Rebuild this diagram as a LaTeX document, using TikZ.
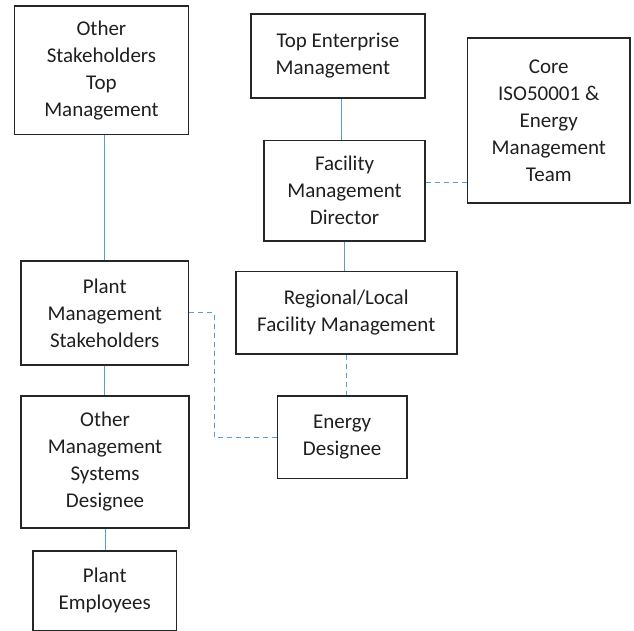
\documentclass[tikz,border=0pt]{standalone}
\usepackage{fontspec}
\setmainfont{Carlito}
\begin{document}
\begin{tikzpicture}[x=1pt,y=-1pt,
  box/.style={draw=boxgray,line width=1.5pt,anchor=north west,align=center,
    inner sep=0pt,font=\fontsize{21}{27}\selectfont,text=black!88},
  solidlink/.style={draw=linkblue,line width=1.1pt},
  dashlink/.style={draw=linkblue,line width=1.1pt,dash pattern=on 5pt off 4pt}]
\definecolor{boxgray}{HTML}{262626}
\definecolor{linkblue}{HTML}{5B9BD5}
\useasboundingbox (0,0) rectangle (634,631);

% boxes: anchored at their top-left corners
\node[box,minimum width=174pt,minimum height=128.7pt] (ostm) at (13.7,5.3)
  {Other\\Stakeholders\\Top\\Management};
\node[box,minimum width=174.3pt,minimum height=84pt] (tem) at (250,13.3)
  {\raisebox{5pt}{Top Enterprise}\\\raisebox{5pt}{Management\hspace*{10pt}}};
\node[box,minimum width=161pt,minimum height=100pt] (fmd) at (263.3,140)
  {Facility\\Management\\Director};
\node[box,minimum width=162.6pt,minimum height=165pt] (core) at (466.7,37.3)
  {Core\\ISO50001 \&\\Energy\\Management\\Team};
\node[box,minimum width=167.4pt,minimum height=103.7pt] (pms) at (20.3,260.3)
  {Plant\\Management\\Stakeholders};
\node[box,minimum width=221pt,minimum height=82.6pt] (rlf) at (235,270.7)
  {Regional/Local\\Facility Management};
\node[box,minimum width=129.3pt,minimum height=82.7pt] (ed) at (276.7,395)
  {Energy\\Designee};
\node[box,minimum width=168pt,minimum height=132.3pt] (omsd) at (20.3,395)
  {Other\\Management\\Systems\\Designee};
\node[box,minimum width=143.4pt,minimum height=79.5pt] (pe) at (32.3,550)
  {Plant\\Employees};

% solid reporting lines
\draw[solidlink] (pms.north |- ostm.south) -- (pms.north);
\coordinate (temx) at (341.3,0);
\draw[solidlink] (temx |- tem.south) -- (temx |- fmd.north);
\draw[solidlink] (fmd.south) -- (fmd.south |- rlf.north);
\draw[solidlink] (pms.south) -- (pms.south |- omsd.north);
\draw[solidlink] (omsd.south) -- (omsd.south |- pe.north);

% dashed coordination lines
\coordinate (corey) at (0,182.7);
\draw[dashlink] (fmd.east |- corey) -- (core.west |- corey);
\draw[dashlink] (rlf.south) -- (rlf.south |- ed.north);
\draw[dashlink] (pms.east) -- ++(25,0) |- (ed.west);
\end{tikzpicture}
\end{document}
